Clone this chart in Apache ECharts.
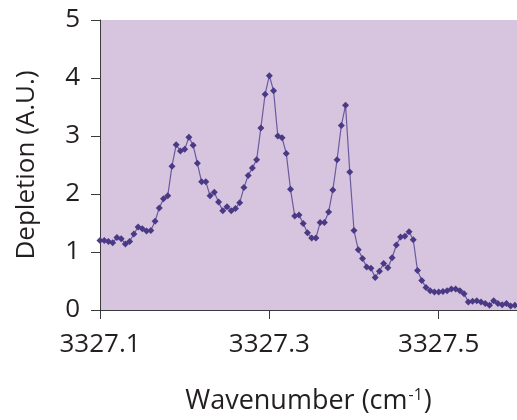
<!DOCTYPE html>
<html>
<head>
<meta charset="utf-8">
<script src="https://cdn.jsdelivr.net/npm/echarts@6/dist/echarts.min.js"></script>
<style>
html,body{margin:0;padding:0;background:#fff;}
#chart{width:517px;height:420px;}
</style>
</head>
<body>
<div id="chart"></div>
<script>
// Wavenumber (cm^-1)
var wavenumbers = [
3327.100,3327.105,3327.110,3327.115,3327.120,3327.125,3327.130,3327.135,3327.140,3327.145,
3327.150,3327.155,3327.160,3327.165,3327.170,3327.175,3327.180,3327.185,3327.190,3327.195,
3327.200,3327.205,3327.210,3327.215,3327.220,3327.225,3327.230,3327.235,3327.240,3327.245,
3327.250,3327.255,3327.260,3327.265,3327.270,3327.275,3327.280,3327.285,3327.290,3327.295,
3327.300,3327.305,3327.310,3327.315,3327.320,3327.325,3327.330,3327.335,3327.340,3327.345,
3327.350,3327.355,3327.360,3327.365,3327.370,3327.375,3327.380,3327.385,3327.390,3327.395,
3327.400,3327.405,3327.410,3327.415,3327.420,3327.425,3327.430,3327.435,3327.440,3327.445,
3327.450,3327.455,3327.460,3327.465,3327.470,3327.475,3327.480,3327.485,3327.490,3327.495,
3327.500,3327.505,3327.510,3327.515,3327.520,3327.525,3327.530,3327.535,3327.540,3327.545,
3327.550,3327.555,3327.560,3327.565,3327.570,3327.575,3327.580,3327.585,3327.590
];
// Depletion (A.U.)
var depletion = [
1.20,1.20,1.18,1.16,1.25,1.23,1.14,1.18,1.31,1.43,
1.40,1.36,1.37,1.53,1.76,1.92,1.97,2.48,2.85,2.74,
2.77,2.98,2.84,2.53,2.21,2.21,1.97,2.03,1.86,1.71,
1.78,1.71,1.75,1.85,2.11,2.32,2.45,2.59,3.14,3.72,
4.04,3.78,3.00,2.97,2.70,2.08,1.62,1.64,1.49,1.33,
1.24,1.24,1.51,1.51,1.69,2.07,2.59,3.18,3.53,2.38,
1.37,1.04,0.89,0.74,0.72,0.56,0.67,0.80,0.73,0.90,
1.12,1.26,1.27,1.35,1.21,0.68,0.51,0.39,0.33,0.31,
0.31,0.32,0.33,0.36,0.36,0.33,0.28,0.14,0.15,0.16,
0.14,0.11,0.08,0.16,0.11,0.09,0.11,0.07,0.08
];
var xTicks = [3327.1, 3327.3, 3327.5];
var yTicks = [0, 1, 2, 3, 4, 5];

var points = wavenumbers.map(function (w, i) { return [w, depletion[i]]; });
var FONT = 'Open Sans';
var chart = echarts.init(document.getElementById('chart'), null, {renderer: 'canvas'});
chart.setOption({
  animation: false,
  backgroundColor: '#ffffff',
  grid: {
    left: 100, right: 0, top: 20, bottom: 102.5,
    show: true, backgroundColor: '#d7c5df', borderWidth: 0
  },
  xAxis: {
    type: 'value',
    min: 3327.1,
    max: 3327.5925,
    name: '{a|Wavenumber (cm}{b|-1}{a|)}',
    nameLocation: 'middle',
    nameGap: 75,
    nameTextStyle: {
      rich: {
        a: {fontFamily: FONT, fontSize: 27, color: '#231f20', verticalAlign: 'bottom', lineHeight: 30},
        b: {fontFamily: FONT, fontSize: 16, color: '#231f20', verticalAlign: 'bottom', lineHeight: 30, padding: [0, 1, 12, 1]}
      }
    },
    axisLine: {show: true, lineStyle: {color: '#3a3a3a', width: 1}},
    axisTick: {show: true, length: 9, inside: false, customValues: xTicks, lineStyle: {color: '#3a3a3a'}},
    axisLabel: {
      customValues: xTicks,
      margin: 22,
      fontFamily: FONT, fontSize: 26, color: '#231f20',
      formatter: function (v) { return v.toFixed(1); }
    },
    splitLine: {show: false}
  },
  yAxis: {
    type: 'value',
    min: 0, max: 5, interval: 1,
    name: 'Depletion (A.U.)',
    nameLocation: 'middle',
    nameGap: 60,
    nameTextStyle: {fontFamily: FONT, fontSize: 26, color: '#231f20'},
    axisLine: {show: true, lineStyle: {color: '#3a3a3a', width: 1}},
    axisTick: {show: true, length: 9, inside: false, lineStyle: {color: '#3a3a3a'}},
    axisLabel: {
      margin: 20,
      fontFamily: FONT, fontSize: 26, color: '#231f20',
      formatter: function (v) { return yTicks.indexOf(v) >= 0 ? String(v) : ''; }
    },
    splitLine: {show: false}
  },
  series: [{
    type: 'line',
    data: points,
    symbol: 'diamond',
    symbolSize: 7,
    showSymbol: true,
    clip: true,
    lineStyle: {color: '#6a5a9e', width: 1.2},
    itemStyle: {color: '#4a3a86', borderWidth: 0}
  }]
});
</script>
</body>
</html>
